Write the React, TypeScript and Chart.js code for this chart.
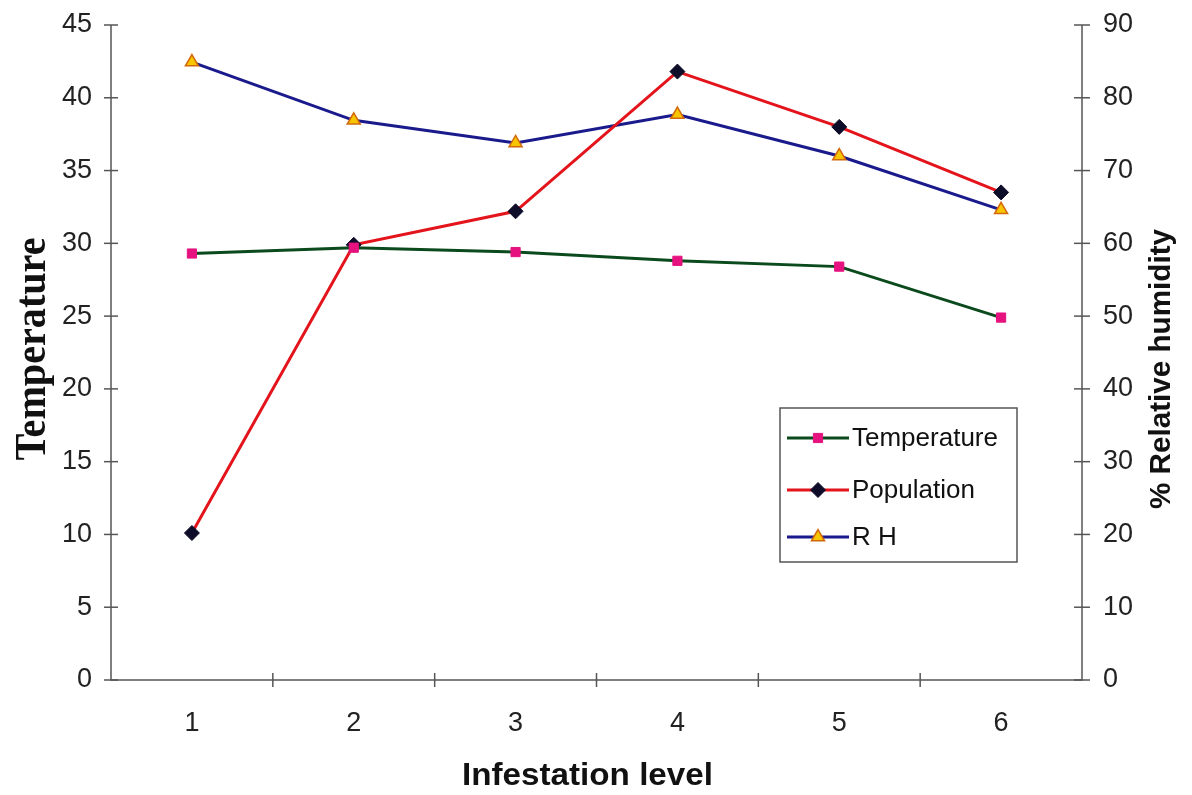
import React, { useEffect, useRef } from "react";
import { Chart, registerables } from "chart.js";

Chart.register(...registerables);

const categories = ["1", "2", "3", "4", "5", "6"];
const temperature = [29.3, 29.7, 29.4, 28.8, 28.4, 24.9];
const population = [10.1, 29.9, 32.2, 41.8, 38.0, 33.5];
const relativeHumidity = [84.9, 76.9, 73.8, 77.7, 72.0, 64.6];
const legendLabels = ["Temperature", "Population", "R H"];

const SANS = "'Liberation Sans', Arial, sans-serif";
const SERIF = "'Liberation Serif', 'Times New Roman', serif";

function drawFitted(
  ctx: CanvasRenderingContext2D,
  text: string,
  x: number,
  y: number,
  font: string,
  width: number,
  rot: number
) {
  ctx.save();
  ctx.translate(x, y);
  ctx.rotate(rot);
  ctx.font = font;
  const w = ctx.measureText(text).width;
  ctx.scale(width / w, 1);
  ctx.textAlign = "center";
  ctx.textBaseline = "alphabetic";
  ctx.fillStyle = "#111";
  ctx.fillText(text, 0, 0);
  ctx.restore();
}

const decorPlugin = {
  id: "decor",
  beforeDraw(chart: any) {
    const ctx = chart.ctx;
    ctx.save();
    ctx.fillStyle = "#ffffff";
    ctx.fillRect(0, 0, chart.width, chart.height);
    ctx.restore();
  },
  afterDatasetsDraw(chart: any) {
    const ctx: CanvasRenderingContext2D = chart.ctx;
    const x = chart.scales.x;
    const y = chart.scales.y;
    const y1 = chart.scales.y1;
    const area = chart.chartArea;
    ctx.save();
    ctx.strokeStyle = "#555";
    ctx.lineWidth = 1.5;
    ctx.beginPath();
    ctx.moveTo(area.left, area.top);
    ctx.lineTo(area.left, area.bottom);
    ctx.lineTo(area.right, area.bottom);
    ctx.lineTo(area.right, area.top);
    ctx.stroke();
    y.ticks.forEach((t: any) => {
      const py = y.getPixelForValue(t.value);
      ctx.beginPath();
      ctx.moveTo(area.left - 7, py);
      ctx.lineTo(area.left + 7, py);
      ctx.stroke();
    });
    y1.ticks.forEach((t: any) => {
      const py = y1.getPixelForValue(t.value);
      ctx.beginPath();
      ctx.moveTo(area.right - 8, py);
      ctx.lineTo(area.right + 8, py);
      ctx.stroke();
    });
    for (let i = 0; i < categories.length - 1; i++) {
      const px = (x.getPixelForValue(i) + x.getPixelForValue(i + 1)) / 2;
      ctx.beginPath();
      ctx.moveTo(px, area.bottom - 7);
      ctx.lineTo(px, area.bottom + 7);
      ctx.stroke();
    }
    ctx.restore();
  },
  afterDraw(chart: any) {
    const ctx: CanvasRenderingContext2D = chart.ctx;
    drawFitted(ctx, "Temperature", 45, 349, `bold 44px ${SERIF}`, 223, -Math.PI / 2);
    drawFitted(ctx, "% Relative humidity", 1170, 369, `bold 30px ${SANS}`, 280, -Math.PI / 2);
    drawFitted(ctx, "Infestation level", (462 + 713) / 2, 785, `bold 32px ${SANS}`, 251, 0);

    const bx = 780, by = 408, bw = 237, bh = 154;
    ctx.save();
    ctx.fillStyle = "#ffffff";
    ctx.fillRect(bx, by, bw, bh);
    ctx.strokeStyle = "#555";
    ctx.lineWidth = 1.5;
    ctx.strokeRect(bx, by, bw, bh);
    const rowsY = [438, 490, 537];
    const big = { left: -10000, top: -10000, right: 10000, bottom: 10000 };
    chart.data.datasets.forEach((ds: any, i: number) => {
      const ly = rowsY[i];
      ctx.strokeStyle = ds.borderColor;
      ctx.lineWidth = 3;
      ctx.beginPath();
      ctx.moveTo(787, ly);
      ctx.lineTo(849, ly);
      ctx.stroke();
      const el = chart.getDatasetMeta(i).data[0];
      ctx.save();
      ctx.translate(818 - el.x, ly - el.y);
      el.draw(ctx, big);
      ctx.restore();
      ctx.fillStyle = "#111";
      ctx.font = `26px ${SANS}`;
      ctx.textAlign = "left";
      ctx.textBaseline = "middle";
      ctx.fillText(legendLabels[i], 852, ly + 1);
    });
    ctx.restore();
  },
};

const noPad = (s: any) => {
  s.paddingTop = 0;
  s.paddingBottom = 0;
  s.paddingLeft = 0;
  s.paddingRight = 0;
};

export default function App() {
  const ref = useRef<HTMLCanvasElement>(null);
  useEffect(() => {
    if (!ref.current) return;
    const tickFont = { family: SANS, size: 27 };
    const chart = new Chart(ref.current, {
      type: "line",
      data: {
        labels: categories,
        datasets: [
          {
            label: legendLabels[0],
            data: temperature,
            yAxisID: "y",
            borderColor: "#0b4a1c",
            borderWidth: 3,
            pointStyle: "rect",
            pointRadius: 6.5,
            pointBackgroundColor: "#e5127f",
            pointBorderColor: "#e5127f",
            pointBorderWidth: 1,
            tension: 0,
          },
          {
            label: legendLabels[1],
            data: population,
            yAxisID: "y",
            borderColor: "#e3141b",
            borderWidth: 3,
            pointStyle: "rectRot",
            pointRadius: 7.5,
            pointBackgroundColor: "#0d0d2a",
            pointBorderColor: "#0d0d2a",
            pointBorderWidth: 1,
            tension: 0,
          },
          {
            label: legendLabels[2],
            data: relativeHumidity,
            yAxisID: "y1",
            borderColor: "#1a1a8c",
            borderWidth: 3,
            pointStyle: "triangle",
            pointRadius: 7.5,
            pointBackgroundColor: "#f7c600",
            pointBorderColor: "#d2680a",
            pointBorderWidth: 1.5,
            tension: 0,
          },
        ],
      },
      options: {
        responsive: false,
        animation: false,
        layout: { padding: { top: 25, left: 0, right: 0, bottom: 0 } },
        plugins: { legend: { display: false }, tooltip: { enabled: false } },
        scales: {
          x: {
            type: "category",
            offset: true,
            grid: { display: false, drawTicks: false },
            border: { display: false },
            ticks: { font: tickFont, color: "#222", padding: 27, maxRotation: 0 },
            afterFit: (s: any) => {
              s.height = 115;
              noPad(s);
            },
          },
          y: {
            position: "left",
            min: 0,
            max: 45,
            grid: { display: false, drawTicks: false },
            border: { display: false },
            ticks: { stepSize: 5, font: tickFont, color: "#222", padding: 19 },
            afterFit: (s: any) => {
              s.width = 111;
              noPad(s);
            },
          },
          y1: {
            position: "right",
            min: 0,
            max: 90,
            grid: { display: false, drawTicks: false },
            border: { display: false },
            ticks: { stepSize: 10, font: tickFont, color: "#222", padding: 21 },
            afterFit: (s: any) => {
              s.width = 110;
              noPad(s);
            },
          },
        },
      },
      plugins: [decorPlugin],
    });
    return () => chart.destroy();
  }, []);
  return (
    <div style={{ position: "absolute", left: 0, top: 0, width: 1192, height: 795 }}>
      <canvas ref={ref} width={1192} height={795} style={{ display: "block" }} />
    </div>
  );
}
